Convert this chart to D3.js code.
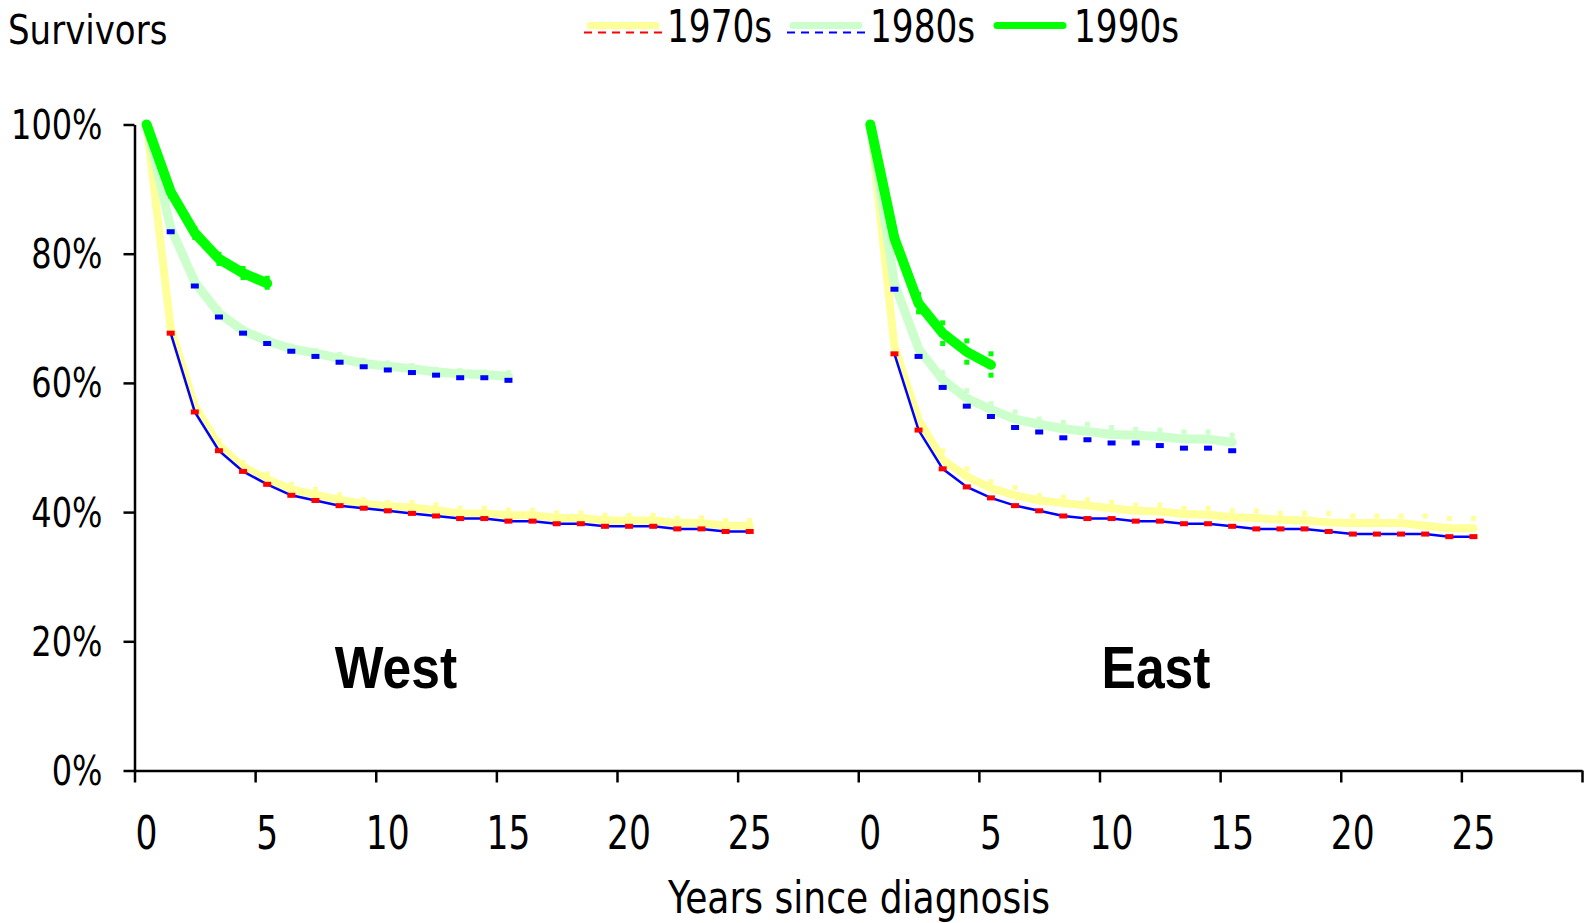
<!DOCTYPE html>
<html>
<head>
<meta charset="utf-8">
<script src="https://d3js.org/d3.v7.min.js"></script>
<style>
body { margin: 0; background: #fff; }
text { font-family: "DejaVu Sans", sans-serif; fill: #000; }
</style>
</head>
<body>
<div id="chart"></div>
<script>
// Categories and tick labels
var regions = ["West", "East"];
var decades = ["1970s", "1980s", "1990s"];
var yearTicks = [0, 5, 10, 15, 20, 25];
var pctTicks = [0, 20, 40, 60, 80, 100];

// West: estimate from year 0, upper and lower from year 1
var west70 = [100, 68.5, 56.4, 50.3, 47.0, 45.1, 43.5, 42.7, 41.9, 41.3, 40.9, 40.7, 40.3, 39.8, 39.8, 39.5, 39.5, 39.1, 39.1, 38.7, 38.7, 38.7, 38.3, 38.3, 37.9, 37.9];
var west70Upper = [69.3, 57.2, 51.1, 47.7, 45.9, 44.3, 43.5, 42.7, 41.9, 41.5, 41.5, 41.1, 40.6, 40.6, 40.3, 40.3, 39.9, 39.9, 39.5, 39.5, 39.5, 39.1, 39.1, 38.7, 38.7];
var west70Lower = [67.7, 55.5, 49.5, 46.3, 44.3, 42.6, 41.8, 41.0, 40.6, 40.2, 39.8, 39.4, 39.0, 39.0, 38.6, 38.6, 38.2, 38.2, 37.8, 37.8, 37.8, 37.4, 37.4, 37.0, 37.0];

var west80 = [100, 84.0, 75.6, 70.8, 68.1, 66.5, 65.3, 64.6, 63.8, 63.0, 62.6, 62.2, 61.7, 61.4, 61.3, 61.0];
var west80Upper = [84.5, 76.2, 71.4, 68.5, 66.9, 65.7, 65.0, 64.4, 63.5, 63.1, 62.7, 62.1, 61.9, 61.7, 61.6];
var west80Lower = [83.4, 75.0, 70.2, 67.7, 66.1, 64.9, 64.1, 63.2, 62.5, 62.0, 61.6, 61.2, 60.8, 60.8, 60.4];

var west90 = [100, 89.6, 83.2, 79.2, 77.0, 75.4];
var west90Upper = [90.3, 83.9, 79.9, 77.7, 76.2];
var west90Lower = [88.9, 82.5, 78.5, 76.3, 74.8];

// East
var east70 = [100, 65.6, 54.3, 48.1, 45.5, 43.7, 42.6, 41.8, 41.4, 41.0, 40.6, 40.2, 40.1, 39.7, 39.6, 39.2, 39.1, 38.8, 38.7, 38.4, 38.3, 38.3, 38.3, 37.9, 37.5, 37.5];
var east70Upper = [66.9, 55.2, 49.5, 46.7, 44.7, 43.8, 42.6, 42.3, 41.9, 41.5, 41.1, 41.1, 40.6, 40.6, 40.2, 40.2, 39.8, 39.8, 39.8, 39.4, 39.4, 39.4, 39.4, 39.0, 39.0];
var east70Lower = [64.5, 52.7, 46.7, 43.9, 42.2, 41.0, 40.2, 39.4, 39.0, 39.0, 38.6, 38.6, 38.2, 38.2, 37.8, 37.4, 37.4, 37.4, 37.0, 36.6, 36.6, 36.6, 36.6, 36.2, 36.2];

var east80 = [100, 75.4, 65.3, 60.5, 57.6, 55.9, 54.4, 53.6, 52.9, 52.5, 52.0, 51.9, 51.7, 51.3, 51.3, 50.8];
var east80Upper = [76.2, 66.1, 61.6, 58.8, 56.8, 55.5, 54.4, 53.9, 53.6, 53.1, 52.8, 52.7, 52.4, 52.4, 51.9];
var east80Lower = [74.5, 64.1, 59.3, 56.4, 54.8, 53.1, 52.4, 51.5, 51.2, 50.7, 50.7, 50.3, 49.9, 49.9, 49.5];

var east90 = [100, 82.4, 72.3, 67.7, 64.8, 62.8];
var east90Upper = [83.1, 73.7, 69.3, 66.5, 64.5];
var east90Lower = [81.7, 71.0, 66.1, 63.2, 61.2];

// table of series built from the arrays above
var series = [
    {region: 0, decade: 0, est: west70, upper: west70Upper, lower: west70Lower},
    {region: 1, decade: 0, est: east70, upper: east70Upper, lower: east70Lower},
    {region: 0, decade: 1, est: west80, upper: west80Upper, lower: west80Lower},
    {region: 1, decade: 1, est: east80, upper: east80Upper, lower: east80Lower},
    {region: 0, decade: 2, est: west90, upper: west90Upper, lower: west90Lower},
    {region: 1, decade: 2, est: east90, upper: east90Upper, lower: east90Lower}
];

// styles per decade
var lineColor = ["#FFFF99", "#CCFFCC", "#00FF00"],
    lineWidth = [8, 9, 10],
    lowerColor = ["#FF0000", "#0000FF", "#00FF00"];

//Canvas dimensions and margins
var width = 1585,
    height = 923;

var margin = {
    top: 124.5,
    bottom: 152.5,
    left: 134.5,
    right: 3
};

var innerW = width - margin.left - margin.right,
    innerH = height - margin.top - margin.bottom;

var svg = d3.select("#chart")
    .append("svg")
    .attr("width", width)
    .attr("height", height);

var g = svg.append("g")
    .attr("transform", "translate(" + margin.left + "," + margin.top + ")");

// 30 year slots per region, one category axis
var perRegion = 30;
var xBand = d3.scaleBand()
    .domain(d3.range(perRegion * regions.length))
    .range([0, innerW]);

var xEdge = d3.scaleLinear()
    .domain([0, perRegion * regions.length])
    .range([0, innerW]);

var y = d3.scaleLinear()
    .domain([0, 100])
    .range([innerH, 0]);

function xPos(region, year) {
    return xBand(region * perRegion + year) + xBand.bandwidth() / 2;
}

// axes
var yAxis = g.append("g")
    .call(d3.axisLeft(y).tickValues(pctTicks).tickSize(11).tickSizeOuter(0)
        .tickFormat(function(d) { return d + "%"; }));

yAxis.selectAll("line, path").attr("stroke", "#000").attr("stroke-width", 2.5);
yAxis.selectAll("text")
    .attr("x", 0)
    .attr("y", 0)
    .attr("dy", null)
    .attr("font-size", "40px")
    .attr("font-family", "DejaVu Sans")
    .attr("fill", "#000")
    .attr("text-anchor", "end")
    .attr("transform", "translate(-32,14) scale(0.8,1)");

var xAxis = g.append("g")
    .attr("transform", "translate(0," + innerH + ")")
    .call(d3.axisBottom(xEdge).tickValues(d3.range(0, perRegion * regions.length + 1, 5))
        .tickSize(12).tickSizeOuter(0).tickFormat(""));

xAxis.selectAll("line, path").attr("stroke", "#000").attr("stroke-width", 2.5);

// year labels sit in the middle of their category
var xLabels = [];
regions.forEach(function(r, ri) {
    yearTicks.forEach(function(t) { xLabels.push({region: ri, year: t}); });
});

g.selectAll(".xlabel")
    .data(xLabels)
    .enter()
    .append("text")
    .attr("class", "xlabel")
    .attr("text-anchor", "middle")
    .attr("font-size", "46px")
    .attr("transform", function(d) {
        return "translate(" + xPos(d.region, d.year) + "," + (innerH + 78) + ") scale(0.75,1)";
    })
    .text(function(d) { return d.year; });

// the curves
var line = d3.line()
    .x(function(d) { return d.x; })
    .y(function(d) { return y(d.v); });

function points(region, values, first) {
    return values.map(function(v, i) { return {x: xPos(region, i + first), v: v}; });
}

var plot = g.append("g");

series.forEach(function(s) {
    var up = points(s.region, s.upper, 1),
        low = points(s.region, s.lower, 1);

    // estimate as a thick line
    plot.append("path")
        .datum(points(s.region, s.est, 0))
        .attr("d", line)
        .attr("fill", "none")
        .attr("stroke", lineColor[s.decade])
        .attr("stroke-width", lineWidth[s.decade])
        .attr("stroke-linecap", "round")
        .attr("stroke-linejoin", "round");

    // upper values as small squares
    plot.selectAll(null)
        .data(up)
        .enter()
        .append("rect")
        .attr("x", function(d) { return d.x - 2.5; })
        .attr("y", function(d) { return y(d.v) - 2.5; })
        .attr("width", 5)
        .attr("height", 5)
        .attr("fill", lineColor[s.decade]);

    // 1970s lower values joined by a thin blue line
    if (s.decade === 0) {
        plot.append("path")
            .datum(low)
            .attr("d", line)
            .attr("fill", "none")
            .attr("stroke", "#0000FF")
            .attr("stroke-width", 2.5);
    }

    var dash = s.decade < 2;
    plot.selectAll(null)
        .data(low)
        .enter()
        .append("rect")
        .attr("x", function(d) { return d.x - (dash ? 4 : 2.5); })
        .attr("y", function(d) { return y(d.v) - 2.5; })
        .attr("width", dash ? 8 : 5)
        .attr("height", 5)
        .attr("fill", lowerColor[s.decade]);
});

// region names
var regionX = [396, 1156];
svg.selectAll(".region")
    .data(regions)
    .enter()
    .append("text")
    .attr("class", "region")
    .attr("text-anchor", "middle")
    .attr("font-weight", "bold")
    .attr("font-size", "60px")
    .style("font-family", "Liberation Sans, Arial, sans-serif")
    .attr("transform", function(d, i) {
        return "translate(" + regionX[i] + ",688) scale(0.86,1)";
    })
    .text(function(d) { return d; });

// titles
svg.append("text")
    .attr("font-size", "41px")
    .attr("transform", "translate(8,44) scale(0.83,1)")
    .text("Survivors");

svg.append("text")
    .attr("font-size", "44px")
    .attr("text-anchor", "middle")
    .attr("transform", "translate(859,913) scale(0.82,1)")
    .text("Years since diagnosis");

// legend
var legendLineX = [590, 793, 997],
    legendTextX = [667, 870, 1074];

var legend = svg.selectAll(".legend")
    .data(decades)
    .enter()
    .append("g")
    .attr("class", "legend");

legend.filter(function(d, i) { return i < 2; })
    .append("line")
    .attr("x1", function(d, i) { return legendLineX[i] - 6; })
    .attr("x2", function(d, i) { return legendLineX[i] + 72; })
    .attr("y1", 32.5)
    .attr("y2", 32.5)
    .attr("stroke", function(d, i) { return lowerColor[i]; })
    .attr("stroke-width", 2)
    .attr("stroke-dasharray", "8,6");

legend.append("line")
    .attr("x1", function(d, i) { return legendLineX[i]; })
    .attr("x2", function(d, i) { return legendLineX[i] + 66; })
    .attr("y1", 25.5)
    .attr("y2", 25.5)
    .attr("stroke", function(d, i) { return lineColor[i]; })
    .attr("stroke-width", 7)
    .attr("stroke-linecap", "round");

legend.append("text")
    .attr("font-size", "44px")
    .attr("transform", function(d, i) {
        return "translate(" + legendTextX[i] + ",42) scale(0.78,1)";
    })
    .text(function(d) { return d; });
</script>
</body>
</html>
